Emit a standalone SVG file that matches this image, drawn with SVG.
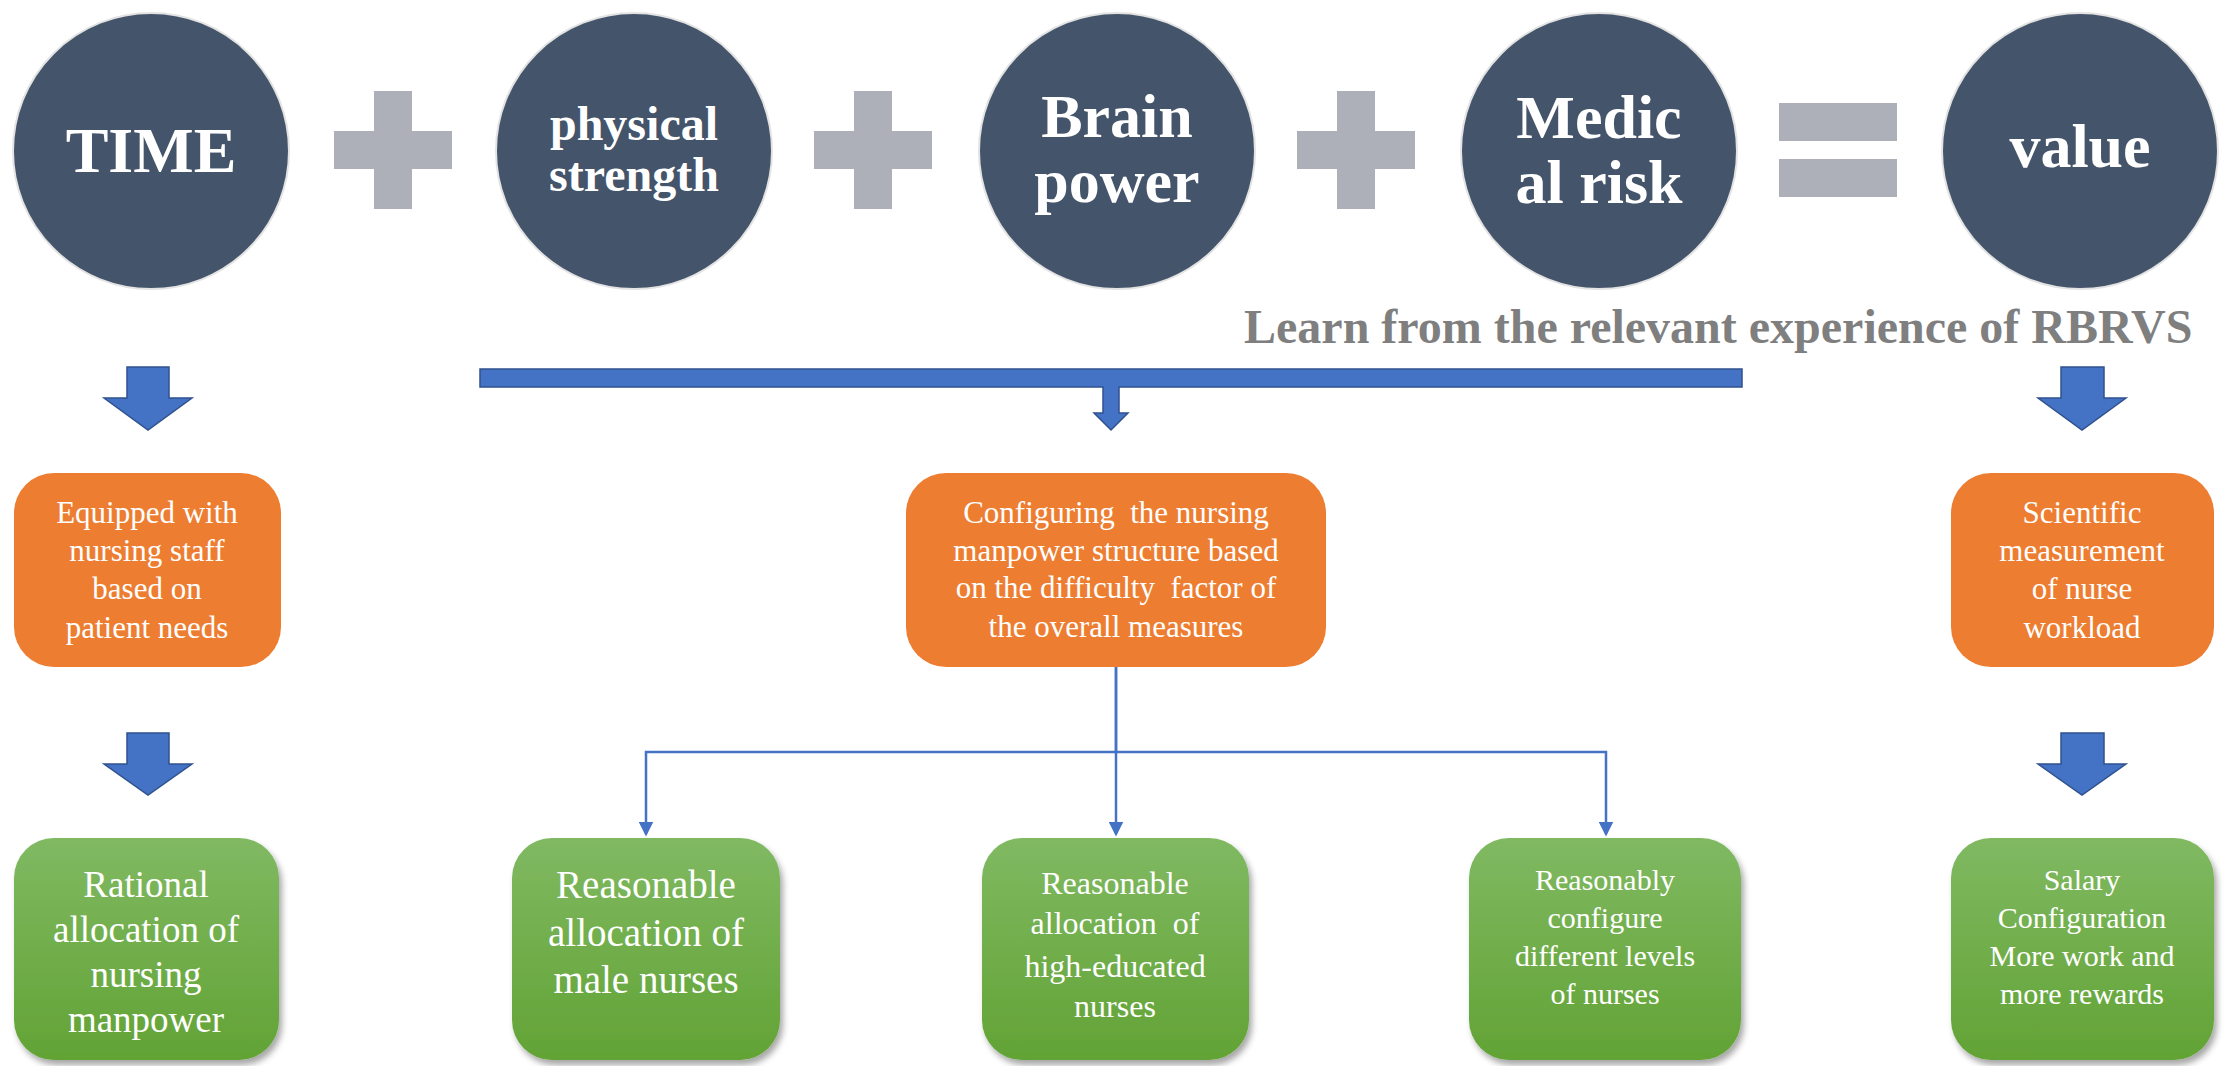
<svg xmlns="http://www.w3.org/2000/svg" width="2229" height="1066" viewBox="0 0 2229 1066">
<style>
.circ{fill:#44546a;stroke:#e3e3e3;stroke-width:2}
.op{fill:#adb0b8}
.ct{font-family:"Liberation Serif","Times New Roman",serif;font-weight:bold;fill:#ffffff;text-anchor:middle}
.bt{font-family:"Liberation Serif","Times New Roman",serif;fill:#ffffff;text-anchor:middle}
.orange{fill:#ed7d31}
.green{fill:url(#gg);filter:url(#sh)}
.barrow{fill:#4472c4;stroke:#2f528f;stroke-width:1.5}
.conn{fill:none;stroke:#4472c4;stroke-width:2.5}
</style>
<defs>
<linearGradient id="gg" x1="0" y1="0" x2="0" y2="1">
<stop offset="0" stop-color="#80b962"/>
<stop offset="1" stop-color="#62a335"/>
</linearGradient>
<filter id="sh" x="-10%" y="-10%" width="130%" height="130%">
<feDropShadow dx="3" dy="5" stdDeviation="3" flood-color="#000000" flood-opacity="0.35"/>
</filter>
<marker id="ah" markerWidth="6" markerHeight="6" refX="5" refY="3" orient="auto" markerUnits="strokeWidth">
<path d="M0,0 L6,3 L0,6 Z" fill="#4472c4"/>
</marker>
</defs>
<rect width="2229" height="1066" fill="#ffffff"/>

<g id="time">
<circle class="circ" cx="151" cy="151" r="138"/>
<text class="ct" x="151" y="172" font-size="64">TIME</text>
</g>
<g id="plus1"><path class="op" d="M374,91 H412 V131 H452 V169 H412 V209 H374 V169 H334 V131 H374 Z"/></g>
<g id="physical">
<circle class="circ" cx="634" cy="151" r="138"/>
<text class="ct" x="634" y="140" font-size="48">physical</text>
<text class="ct" x="634" y="191" font-size="48">strength</text>
</g>
<g id="plus2"><path class="op" d="M854,91 H892 V131 H932 V169 H892 V209 H854 V169 H814 V131 H854 Z"/></g>
<g id="brain">
<circle class="circ" cx="1117" cy="151" r="138"/>
<text class="ct" x="1117" y="137" font-size="62">Brain</text>
<text class="ct" x="1117" y="202" font-size="62">power</text>
</g>
<g id="plus3"><path class="op" d="M1337,91 H1375 V131 H1415 V169 H1375 V209 H1337 V169 H1297 V131 H1337 Z"/></g>
<g id="medical">
<circle class="circ" cx="1599" cy="151" r="138"/>
<text class="ct" x="1599" y="138" font-size="62">Medic</text>
<text class="ct" x="1599" y="203" font-size="62">al risk</text>
</g>
<g id="equals">
<rect class="op" x="1779" y="103" width="118" height="38"/>
<rect class="op" x="1779" y="159" width="118" height="38"/>
</g>
<g id="value">
<circle class="circ" cx="2080" cy="151" r="138"/>
<text class="ct" x="2080" y="167" font-size="62">value</text>
</g>

<g id="rbrvs-label">
<text x="1244" y="343" font-family="Liberation Serif, Times New Roman, serif" font-weight="bold" font-size="48" fill="#7f7f7f">Learn from the relevant experience of RBRVS</text>
</g>

<g id="block-arrows">
<path class="barrow" d="M127,367 H169 V398 H192 L148,430 L104,398 H127 Z"/>
<path class="barrow" d="M480,369 H1742 V387 H1119 V413 H1128 L1111,430 L1094,413 H1103 V387 H480 Z"/>
<path class="barrow" d="M2061,367 H2104 V398 H2126 L2082,430 L2038,398 H2061 Z"/>
<path class="barrow" d="M127,733 H169 V764 H192 L148,795 L104,764 H127 Z"/>
<path class="barrow" d="M2061,733 H2104 V764 H2126 L2082,795 L2038,764 H2061 Z"/>
</g>

<g id="orange-left">
<rect class="orange" x="14" y="473" width="267" height="194" rx="40"/>
<text class="bt" font-size="31"><tspan x="147" y="523">Equipped with</tspan><tspan x="147" y="561">nursing staff</tspan><tspan x="147" y="599">based on</tspan><tspan x="147" y="638">patient needs</tspan></text>
</g>
<g id="orange-mid">
<rect class="orange" x="906" y="473" width="420" height="194" rx="40"/>
<text class="bt" font-size="31" xml:space="preserve"><tspan x="1116" y="523">Configuring  the nursing</tspan><tspan x="1116" y="561">manpower structure based</tspan><tspan x="1116" y="598">on the difficulty  factor of</tspan><tspan x="1116" y="637">the overall measures</tspan></text>
</g>
<g id="orange-right">
<rect class="orange" x="1951" y="473" width="263" height="194" rx="40"/>
<text class="bt" font-size="31"><tspan x="2082" y="523">Scientific</tspan><tspan x="2082" y="561">measurement</tspan><tspan x="2082" y="599">of nurse</tspan><tspan x="2082" y="638">workload</tspan></text>
</g>

<g id="connectors">
<path class="conn" d="M1116,667 V752 H646 V834" marker-end="url(#ah)"/>
<path class="conn" d="M1116,667 V834" marker-end="url(#ah)"/>
<path class="conn" d="M1116,752 H1606 V834" marker-end="url(#ah)"/>
</g>

<g id="green-1">
<rect class="green" x="14" y="838" width="265" height="222" rx="40"/>
<text class="bt" font-size="37"><tspan x="146" y="897">Rational</tspan><tspan x="146" y="942">allocation of</tspan><tspan x="146" y="987">nursing</tspan><tspan x="146" y="1032">manpower</tspan></text>
</g>
<g id="green-2">
<rect class="green" x="512" y="838" width="268" height="222" rx="40"/>
<text class="bt" font-size="39"><tspan x="646" y="898">Reasonable</tspan><tspan x="646" y="946">allocation of</tspan><tspan x="646" y="993">male nurses</tspan></text>
</g>
<g id="green-3">
<rect class="green" x="982" y="838" width="267" height="222" rx="40"/>
<text class="bt" font-size="32" xml:space="preserve"><tspan x="1115" y="894">Reasonable</tspan><tspan x="1115" y="934">allocation  of</tspan><tspan x="1115" y="977">high-educated</tspan><tspan x="1115" y="1017">nurses</tspan></text>
</g>
<g id="green-4">
<rect class="green" x="1469" y="838" width="272" height="222" rx="40"/>
<text class="bt" font-size="30"><tspan x="1605" y="890">Reasonably</tspan><tspan x="1605" y="928">configure</tspan><tspan x="1605" y="966">different levels</tspan><tspan x="1605" y="1004">of nurses</tspan></text>
</g>
<g id="green-5">
<rect class="green" x="1951" y="838" width="263" height="222" rx="40"/>
<text class="bt" font-size="30"><tspan x="2082" y="890">Salary</tspan><tspan x="2082" y="928">Configuration</tspan><tspan x="2082" y="966">More work and</tspan><tspan x="2082" y="1004">more rewards</tspan></text>
</g>
</svg>
